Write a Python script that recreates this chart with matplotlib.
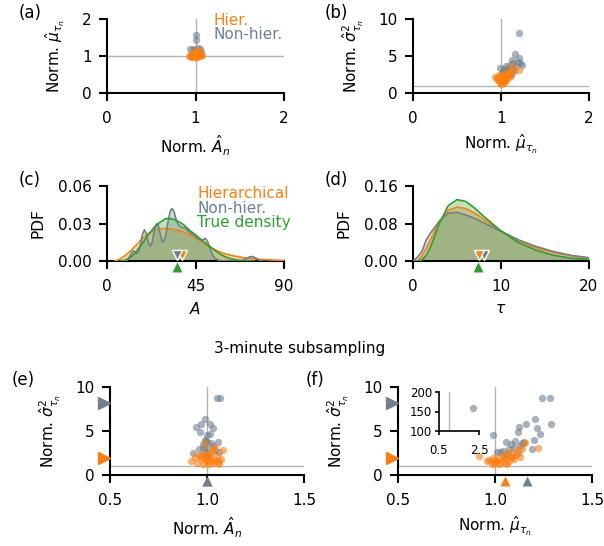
import matplotlib; matplotlib.use("Agg")
import matplotlib.pyplot as plt
from matplotlib.transforms import blended_transform_factory, ScaledTranslation

ORA = "#ff7f0e"; GRY = "#708090"; GRN = "#2ca02c"; REF = "#b4b4b4"
plt.rcParams["font.family"] = ["DejaVu Sans"]
plt.rcParams["font.size"] = 11

# (a) full data: Norm A vs Norm mu
a_hier_A = [0.93, 0.95, 0.96, 0.97, 0.98, 0.99, 1.0, 1.0, 1.01, 1.02, 1.03, 1.04, 1.05, 1.06, 1.07,
            0.95, 0.97, 0.99, 1.01, 1.03, 1.05, 0.96, 0.98, 1.0, 1.02, 1.04, 0.99, 1.01, 1.03, 0.97]
a_hier_mu = [1.0, 0.98, 1.03, 0.99, 1.05, 1.01, 0.97, 1.08, 1.02, 1.06, 0.99, 1.03, 1.1, 1.0, 1.04,
             1.04, 1.07, 1.12, 0.96, 1.09, 1.02, 1.0, 0.98, 1.14, 1.01, 1.06, 1.04, 1.1, 1.15, 1.02]
a_nh_A = [1.0, 1.01, 0.97, 1.05, 0.94, 1.03, 0.99, 1.06, 0.96, 1.02, 1.0, 0.98, 1.04, 1.01, 0.95]
a_nh_mu = [1.58, 1.42, 1.2, 1.2, 1.18, 1.22, 1.15, 1.1, 1.05, 1.12, 1.08, 1.0, 1.02, 0.98, 1.0]

# (b) full data: Norm mu vs Norm sigma^2
b_hier_mu = [0.93, 0.95, 0.96, 0.97, 0.98, 0.99, 1.0, 1.0, 1.01, 1.02, 1.02, 1.03, 1.03, 1.04, 1.05,
             1.05, 1.06, 1.07, 1.08, 1.08, 1.09, 1.1, 1.11, 1.12, 1.13, 1.2, 0.98, 1.0, 1.04, 1.06]
b_hier_s2 = [2.1, 1.9, 2.2, 1.7, 1.8, 1.5, 1.4, 2.0, 1.6, 1.3, 2.2, 1.7, 2.4, 1.5, 1.9,
             2.6, 1.8, 2.1, 2.3, 2.8, 2.5, 2.2, 2.9, 3.6, 3.0, 3.1, 2.4, 1.2, 2.0, 2.7]
b_nh_mu = [1.2, 1.16, 1.2, 1.13, 1.22, 1.24, 1.1, 0.99, 1.03, 1.07, 1.17, 1.05, 1.12, 1.0, 1.02,
           1.08, 1.15, 1.04, 1.09, 1.14, 1.19, 1.06, 1.01, 1.11]
b_nh_s2 = [8.1, 5.3, 4.7, 4.5, 4.0, 3.8, 3.8, 3.4, 3.2, 3.3, 3.6, 2.8, 3.2, 2.5, 2.9,
           2.6, 3.0, 2.2, 2.9, 4.0, 4.2, 3.6, 2.0, 2.4]

# (c) densities of A
c_hier_x = [4, 6, 9, 12, 15, 18, 21, 24, 27, 30, 33, 36, 39, 42, 45, 48, 51, 54, 57, 60, 64, 68, 72, 76, 80, 85, 90]
c_hier_y = [0, 0.001, 0.004, 0.008, 0.013, 0.018, 0.022, 0.0245, 0.0258, 0.026, 0.0255, 0.0248, 0.0232,
            0.021, 0.0185, 0.0155, 0.0125, 0.0098, 0.0075, 0.0058, 0.0042, 0.003, 0.0022, 0.0016,
            0.0011, 0.0007, 0.0005]
c_nh_x = [10, 11, 12, 13, 13.5, 14, 15, 16, 17, 18, 19, 20, 21, 22, 23, 24, 25, 25.5, 26, 27, 28, 28.5,
          29, 30, 31, 32, 33, 34, 35, 36, 37, 38, 40, 42, 44, 46, 48, 49, 50, 51, 52, 53, 54, 55, 57,
          60, 65, 69, 71, 72.5, 74, 75.5, 77, 79]
c_nh_y = [0, 0.002, 0.005, 0.0075, 0.008, 0.0075, 0.006, 0.007, 0.013, 0.021, 0.025, 0.022, 0.015,
          0.012, 0.015, 0.024, 0.029, 0.03, 0.029, 0.022, 0.016, 0.015, 0.016, 0.022, 0.031, 0.039,
          0.042, 0.04, 0.034, 0.03, 0.028, 0.027, 0.026, 0.023, 0.021, 0.018, 0.0165, 0.0172, 0.018,
          0.016, 0.012, 0.007, 0.004, 0.002, 0.0005, 0, 0, 0.0005, 0.002, 0.0033, 0.0036, 0.0025,
          0.001, 0]
c_true_x = [7, 9, 12, 14, 16, 18, 21, 24, 27, 30, 33, 36, 39, 42, 45, 48, 51, 54, 57, 60, 63, 66, 70, 75]
c_true_y = [0, 0.0005, 0.003, 0.006, 0.01, 0.014, 0.021, 0.027, 0.031, 0.034, 0.0338, 0.032, 0.029,
            0.0245, 0.021, 0.017, 0.013, 0.0095, 0.006, 0.0035, 0.0018, 0.0008, 0.0002, 0]
c_means = {"hier": 38.0, "nonhier": 35.6, "true": 35.5}

# (d) densities of tau
d_x = [0, 0.5, 1, 1.5, 2, 3, 4, 5, 6, 7, 8, 10, 12, 14, 16, 18, 20]
d_hier_y = [0, 0, 0.01, 0.027, 0.045, 0.085, 0.108, 0.115, 0.112, 0.102, 0.09, 0.064, 0.043, 0.028, 0.018, 0.011, 0.006]
d_nh_y = [0, 0.008, 0.02, 0.045, 0.06, 0.085, 0.102, 0.104, 0.098, 0.091, 0.082, 0.063, 0.045, 0.031, 0.02, 0.012, 0.007]
d_true_y = [0, 0, 0.002, 0.012, 0.03, 0.08, 0.118, 0.131, 0.127, 0.113, 0.096, 0.064, 0.039, 0.023, 0.012, 0.006, 0.003]
d_means = {"hier": 7.5, "nonhier": 8.07, "true": 7.4}

# (e)/(f) 3-minute subsampling
e_nh_A = [1.05, 1.067, 0.988, 0.97, 1.015, 0.943, 1.03, 0.964, 1.015, 1.0, 0.99, 0.995, 1.055, 1.0,
          1.02, 0.98, 1.03, 0.98, 1.0, 0.96, 1.04, 0.99, 1.06, 0.93, 1.01, 0.97, 1.0, 1.0]
f_nh_mu = [1.244, 1.283, 1.205, 1.29, 1.16, 1.125, 1.218, 1.12, 1.23, 0.99, 1.2, 1.105, 1.057, 1.15,
           1.14, 1.08, 1.13, 1.1, 1.19, 1.07, 1.04, 1.027, 1.009, 1.12, 1.06, 1.09, 1.05, 2.2]
ef_nh_s2 = [8.8, 8.75, 6.35, 5.75, 5.75, 5.5, 5.3, 4.9, 4.66, 4.55, 4.0, 3.85, 3.8, 3.7,
            3.6, 3.5, 3.3, 3.1, 3.0, 2.9, 2.75, 2.65, 2.6, 2.46, 2.35, 2.2, 2.0, 158]
e_hier_A = [1.04, 0.99, 1.0, 1.08, 1.02, 0.985, 1.03, 0.96, 1.05, 1.01, 0.94, 1.02, 0.99, 1.07,
            0.97, 1.04, 1.0, 1.06, 1.02, 0.92, 1.0, 1.05, 0.95, 1.03, 0.98, 1.01, 1.06, 0.99]
f_hier_mu = [1.22, 1.153, 0.92, 1.12, 1.09, 1.06, 1.14, 1.11, 1.04, 1.13, 1.08, 1.02, 0.99, 1.1,
             1.05, 1.0, 0.97, 1.07, 1.01, 0.96, 1.03, 0.98, 1.05, 1.0, 1.02, 0.99, 1.06, 1.08]
ef_hier_s2 = [3.1, 3.6, 2.16, 2.8, 2.65, 2.5, 2.95, 2.3, 2.2, 2.1, 2.0, 1.9, 1.9, 1.85,
              1.8, 1.75, 1.7, 1.6, 1.6, 1.55, 1.5, 1.45, 1.4, 1.35, 1.3, 1.25, 1.3, 1.95]
e_means_A = {"hier": 1.0, "nonhier": 1.0}
f_means_mu = {"hier": 1.052, "nonhier": 1.163}
ef_means_s2 = {"hier": 1.97, "nonhier": 8.2}

fig = plt.figure(figsize=(6.04, 5.46), dpi=100)
W, H = 604, 546
def add_ax(x0, y0, x1, y1):
    return fig.add_axes([x0 / W, 1 - y1 / H, (x1 - x0) / W, (y1 - y0) / H])

def style(ax):
    for s in ("top", "right"):
        ax.spines[s].set_visible(False)
    for s in ("left", "bottom"):
        ax.spines[s].set_linewidth(1.5)
    ax.tick_params(length=6, width=1.5)
    ax.tick_params(axis="x", pad=7)
    ax.tick_params(axis="y", pad=5)

ax_a = add_ax(107, 19, 284, 93)
ax_b = add_ax(413, 19, 589, 93)
ax_c = add_ax(107, 186, 284, 261)
ax_d = add_ax(413, 186, 589, 261)
ax_e = add_ax(110, 387, 304, 475)
ax_f = add_ax(398, 387, 592, 475)
for ax in (ax_a, ax_b, ax_c, ax_d, ax_e, ax_f):
    style(ax)

def scat(ax, x, y):
    ax.scatter(x[0], y[0], s=28, color=GRY, alpha=0.6, lw=0, zorder=3)
    ax.scatter(x[1], y[1], s=28, color=ORA, alpha=0.6, lw=0, zorder=4)

def ref_lines(ax):
    ax.axhline(1, color=REF, lw=1, zorder=1)
    ax.axvline(1, color=REF, lw=1, zorder=1)

# (a)
ref_lines(ax_a)
scat(ax_a, (a_nh_A, a_hier_A), (a_nh_mu, a_hier_mu))
ax_a.set_xlim(0, 2); ax_a.set_ylim(0, 2)
ax_a.set_xticks([0, 1, 2]); ax_a.set_yticks([0, 1, 2])
ax_a.set_xlabel(r"Norm. $\hat{A}_n$", labelpad=5)
ax_a.set_ylabel(r"Norm. $\hat{\mu}_{\tau_n}$", labelpad=11)
ax_a.text(0.6, 0.98, "Hier.", color=ORA, transform=ax_a.transAxes, va="center")
ax_a.text(0.6, 0.79, "Non-hier.", color=GRY, transform=ax_a.transAxes, va="center")

# (b)
ref_lines(ax_b)
scat(ax_b, (b_nh_mu, b_hier_mu), (b_nh_s2, b_hier_s2))
ax_b.set_xlim(0, 2); ax_b.set_ylim(0, 10)
ax_b.set_xticks([0, 1, 2]); ax_b.set_yticks([0, 5, 10])
ax_b.set_xlabel(r"Norm. $\hat{\mu}_{\tau_n}$", labelpad=5)
ax_b.set_ylabel(r"Norm. $\hat{\sigma}^2_{\tau_n}$", labelpad=9)

def dens(ax, xs, ys, cols):
    for x, y, c in zip(xs, ys, cols):
        ax.fill_between(x, y, 0, color=c, alpha=0.3, lw=0, zorder=2)
        ax.plot(x, y, color=c, lw=1.2, zorder=3)

def tri(ax, x, marker, color, dy, z, edge="none"):
    tr = ax.transData + ScaledTranslation(0, dy / 72, fig.dpi_scale_trans)
    ax.plot([x], [0], marker=marker, ms=7.5, color=color, mec=edge, mew=1,
            transform=tr, clip_on=False, zorder=z)

# (c)
dens(ax_c, (c_hier_x, c_nh_x, c_true_x), (c_hier_y, c_nh_y, c_true_y), (ORA, GRY, GRN))
ax_c.set_xlim(0, 90); ax_c.set_ylim(0, 0.06)
ax_c.set_xticks([0, 45, 90]); ax_c.set_yticks([0, 0.03, 0.06])
ax_c.set_yticklabels(["0.00", "0.03", "0.06"])
ax_c.set_xlabel(r"$A$", labelpad=5)
ax_c.set_ylabel("PDF", labelpad=9)
tri(ax_c, c_means["hier"], "v", ORA, 4, 6, "white")
tri(ax_c, c_means["nonhier"], "v", GRY, 4, 7, "white")
tri(ax_c, c_means["true"], "^", GRN, -4, 7)
ax_c.text(0.51, 0.9, "Hierarchical", color=ORA, transform=ax_c.transAxes, va="center")
ax_c.text(0.51, 0.7, "Non-hier.", color=GRY, transform=ax_c.transAxes, va="center")
ax_c.text(0.51, 0.51, "True density", color=GRN, transform=ax_c.transAxes, va="center")

# (d)
dens(ax_d, (d_x, d_x, d_x), (d_hier_y, d_nh_y, d_true_y), (ORA, GRY, GRN))
ax_d.set_xlim(0, 20); ax_d.set_ylim(0, 0.16)
ax_d.set_xticks([0, 10, 20]); ax_d.set_yticks([0, 0.08, 0.16])
ax_d.set_yticklabels(["0.00", "0.08", "0.16"])
ax_d.set_xlabel(r"$\tau$", labelpad=5)
ax_d.set_ylabel("PDF", labelpad=9)
tri(ax_d, d_means["nonhier"], "v", GRY, 4, 6, "white")
tri(ax_d, d_means["hier"], "v", ORA, 4, 7, "white")
tri(ax_d, d_means["true"], "^", GRN, -4, 7)

def side_tri(ax, y, color):
    tr = blended_transform_factory(ax.transAxes, ax.transData) + \
        ScaledTranslation(-4.5 / 72, 0, fig.dpi_scale_trans)
    ax.plot([0], [y], marker=">", ms=8, color=color, transform=tr, clip_on=False, zorder=6)

# (e)
ref_lines(ax_e)
scat(ax_e, (e_nh_A, e_hier_A), (ef_nh_s2, ef_hier_s2))
ax_e.set_xlim(0.5, 1.5); ax_e.set_ylim(0, 10)
ax_e.set_xticks([0.5, 1.0, 1.5]); ax_e.set_yticks([0, 5, 10])
ax_e.set_xlabel(r"Norm. $\hat{A}_n$", labelpad=5)
ax_e.set_ylabel(r"Norm. $\hat{\sigma}^2_{\tau_n}$", labelpad=9)
tri(ax_e, e_means_A["hier"], "^", ORA, -4.5, 6)
tri(ax_e, e_means_A["nonhier"], "^", GRY, -4.5, 7)
side_tri(ax_e, ef_means_s2["nonhier"], GRY)
side_tri(ax_e, ef_means_s2["hier"], ORA)

# (f)
ref_lines(ax_f)
scat(ax_f, (f_nh_mu, f_hier_mu), (ef_nh_s2, ef_hier_s2))
ax_f.set_xlim(0.5, 1.5); ax_f.set_ylim(0, 10)
ax_f.set_xticks([0.5, 1.0, 1.5]); ax_f.set_yticks([0, 5, 10])
ax_f.set_xlabel(r"Norm. $\hat{\mu}_{\tau_n}$", labelpad=5)
ax_f.set_ylabel(r"Norm. $\hat{\sigma}^2_{\tau_n}$", labelpad=9)
tri(ax_f, f_means_mu["hier"], "^", ORA, -4.5, 6)
tri(ax_f, f_means_mu["nonhier"], "^", GRY, -4.5, 7)
side_tri(ax_f, ef_means_s2["nonhier"], GRY)
side_tri(ax_f, ef_means_s2["hier"], ORA)

# inset in (f)
ins = add_ax(439, 392, 479, 431)
for s in ("top", "right"):
    ins.spines[s].set_visible(False)
for s in ("left", "bottom"):
    ins.spines[s].set_linewidth(1.2)
ins.tick_params(length=3, width=1.2, labelsize=8.5, pad=2)
ins.tick_params(axis="x", pad=6)
ins.axvline(1, color=REF, lw=1, zorder=1)
ins.scatter(f_nh_mu, ef_nh_s2, s=28, color=GRY, alpha=0.6, lw=0, zorder=3)
ins.set_xlim(0.5, 2.5); ins.set_ylim(100, 200)
ins.set_xticks([0.5, 2.5]); ins.set_yticks([100, 150, 200])

# panel labels and title
for lab, x, y in [("(a)", 19, 13), ("(b)", 325, 13), ("(c)", 19, 180), ("(d)", 325, 180),
                  ("(e)", 12, 380), ("(f)", 306, 380)]:
    fig.text(x / W, 1 - y / H, lab, ha="left", va="center", fontsize=12)
fig.text(300 / W, 1 - 348 / H, "3-minute subsampling", ha="center", va="center", fontsize=11)

fig.savefig("out.png", dpi=100)
